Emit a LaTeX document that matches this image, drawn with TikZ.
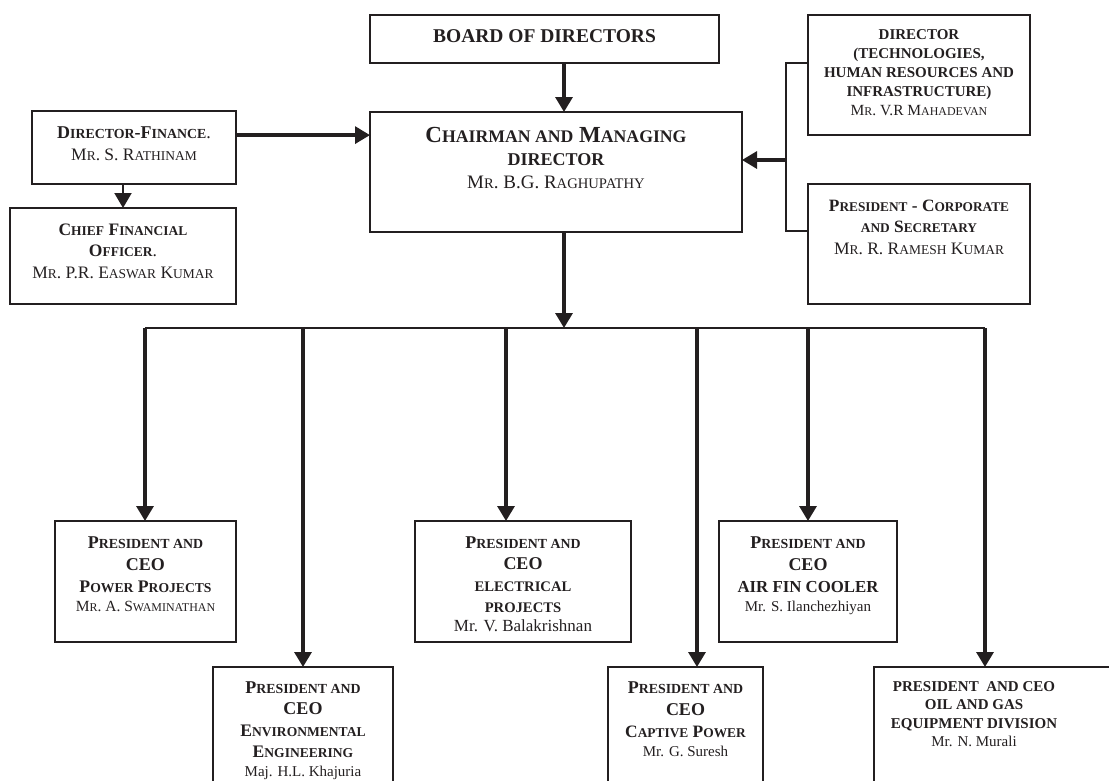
\documentclass[tikz,border=0pt]{standalone}
\usepackage{fontspec}
\setmainfont{Liberation Serif}
\usetikzlibrary{arrows.meta,calc}

\definecolor{ink}{RGB}{35,31,32}

% fake small capitals: the rest of a word at 77% of the size
\makeatletter
\newcommand{\lc}[1]{{\fontsize{\fpeval{0.77*\f@size}}{0}\selectfont #1}}
\makeatother
% text of a box: width, height, first baseline, lines
\newcommand{\boxtext}[4]{\parbox[t][#2pt][t]{#1pt}{\centering\rule{0pt}{#3pt}#4}}

\begin{document}
\begin{tikzpicture}[x=1pt,y=1pt,yscale=-1,
    orgbox/.style={draw=ink,line width=1.3pt,inner sep=0pt,outer sep=0pt,anchor=north west,text=ink},
    feed/.style={draw=ink,line width=3.2pt,-{Triangle[length=15pt,width=17pt]}},
    rail/.style={draw=ink,line width=1.5pt}]
    \clip (0,0) rectangle (1109,780);

    % Top of the chart
    \node[orgbox] (board) at (370,15) {\boxtext{349}{48}{27}{\bfseries\fontsize{19.5}{22}\selectfont BOARD OF DIRECTORS}};
    \node[orgbox] (chair) at (370,112) {\boxtext{372}{120}{30}{\bfseries\fontsize{23}{23}\selectfont C\lc{HAIRMAN AND} M\lc{ANAGING}\\ {\fontsize{18}{23}\selectfont DIRECTOR}\\ \mdseries\fontsize{19}{23}\selectfont M\lc{R}. B.G. R\lc{AGHUPATHY}}};
    \node[orgbox] (df) at (32,111) {\boxtext{204}{73}{27}{\bfseries\fontsize{18}{22}\selectfont D\lc{IRECTOR}-F\lc{INANCE}{\mdseries.}\\ \mdseries\fontsize{17.5}{22}\selectfont M\lc{R}. S. R\lc{ATHINAM}}};
    \node[orgbox] (cfo) at (10,208) {\boxtext{226}{96}{27}{\bfseries\fontsize{17.5}{21.5}\selectfont C\lc{HIEF} F\lc{INANCIAL}\\ O\lc{FFICER}{\mdseries.}\\ \mdseries\fontsize{17.5}{21.5}\selectfont M\lc{R}. P.R. E\lc{ASWAR} K\lc{UMAR}}};
    \node[orgbox] (tech) at (808,15) {\boxtext{222}{120}{24}{\bfseries\fontsize{15}{19}\selectfont DIRECTOR\\ (TECHNOLOGIES,\\ HUMAN RESOURCES AND\\ INFRASTRUCTURE)\\ \mdseries\fontsize{15.5}{19}\selectfont M\lc{R}. V.R M\lc{AHADEVAN}}};
    \node[orgbox] (pres) at (808,184) {\boxtext{222}{120}{27}{\bfseries\fontsize{17.3}{21.5}\selectfont P\lc{RESIDENT} - C\lc{ORPORATE}\\ \lc{AND} S\lc{ECRETARY}\\ \mdseries\fontsize{17.5}{21.5}\selectfont M\lc{R}. R. R\lc{AMESH} K\lc{UMAR}}};

    % Presidents and CEOs
    \node[orgbox] (power) at (55,521) {\boxtext{181}{121}{27}{\bfseries\fontsize{18}{22}\selectfont P\lc{RESIDENT AND}\\ CEO\\ \fontsize{17.7}{22}\selectfont P\lc{OWER} P\lc{ROJECTS}\\[-3pt] \mdseries\fontsize{15.5}{22}\selectfont M\lc{R}. A. S\lc{WAMINATHAN}}};
    \node[orgbox] (env) at (213,667) {\boxtext{180}{130}{26}{\bfseries\fontsize{18}{21.5}\selectfont P\lc{RESIDENT AND}\\ CEO\\ \fontsize{17.6}{21.5}\selectfont E\lc{NVIRONMENTAL}\\ E\lc{NGINEERING}\\[-2.5pt] \mdseries\fontsize{15}{21.5}\selectfont Maj. H.L. Khajuria}};
    \node[orgbox] (elec) at (415,521) {\boxtext{216}{121}{27}{\bfseries\fontsize{18}{21.5}\selectfont P\lc{RESIDENT AND}\\ CEO\\ \fontsize{19}{21.5}\selectfont\lc{ELECTRICAL}\\ \lc{PROJECTS}\\[-2.5pt] \mdseries\fontsize{17}{21.5}\selectfont Mr. V. Balakrishnan}};
    \node[orgbox] (captive) at (608,667) {\boxtext{155}{130}{26}{\bfseries\fontsize{18}{22}\selectfont P\lc{RESIDENT AND}\\ CEO\\ \fontsize{17.4}{22}\selectfont C\lc{APTIVE} P\lc{OWER}\\[-3pt] \mdseries\fontsize{15}{22}\selectfont Mr. G. Suresh}};
    \node[orgbox] (air) at (719,521) {\boxtext{178}{121}{27}{\bfseries\fontsize{18}{22}\selectfont P\lc{RESIDENT AND}\\ CEO\\ \fontsize{16.8}{22}\selectfont AIR FIN COOLER\\[-3pt] \mdseries\fontsize{15}{22}\selectfont Mr. S. Ilanchezhiyan}};
    \node[orgbox] (oil) at (874,667) {\boxtext{260}{130}{24}{\rightskip=60pt plus 1fil\bfseries\fontsize{15}{18.5}\selectfont PRESIDENT\ \ AND CEO\\ OIL AND GAS\\ EQUIPMENT DIVISION\\ \mdseries Mr. N. Murali}};

    % Connectors
    \coordinate (trunk) at (564,328);
    \coordinate (hub) at (786,160);
    \coordinate (dfout) at ($(df.north east)!0.33!(df.south east)$);
    \draw[feed] (board.south -| trunk) -- (chair.north -| trunk);
    \draw[feed] (chair.south -| trunk) -- (trunk);
    \draw[feed] (dfout) -- (dfout -| chair.west);
    \draw[feed,line width=2pt] (df.south -| cfo.north) -- (cfo.north);
    \draw[rail] ($(tech.north west)!0.4!(tech.south west)$) -| (hub) |- ($(pres.north west)!0.39!(pres.south west)$);
    \draw[feed] (hub) -- (hub -| chair.east);

    \foreach \x/\b in {145/power,303/env,506/elec,697/captive,808/air,985/oil}
        \coordinate (bus-\b) at (\x,328);
    \draw[rail] (bus-power) -- (bus-oil);
    \foreach \b in {power,env,elec,captive,air,oil}
        \draw[feed] (bus-\b) -- (bus-\b |- \b.north);
\end{tikzpicture}
\end{document}
